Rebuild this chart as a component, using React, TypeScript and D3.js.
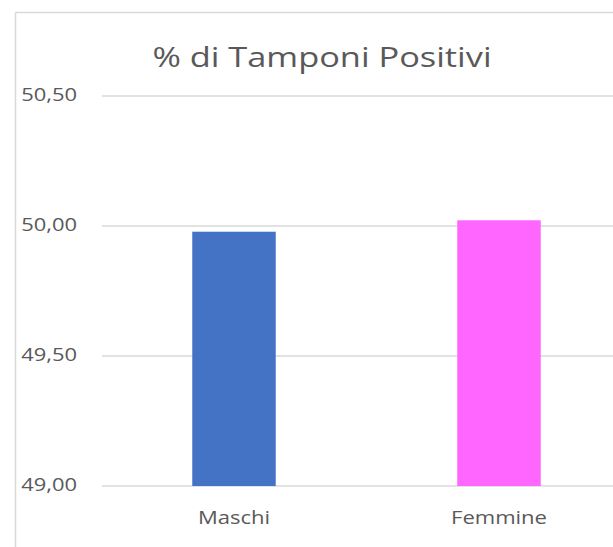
import React from "react";
import * as d3 from "d3";

const categories = ["Maschi", "Femmine"];
const values = [49.978, 50.022];
const barColors = ["#4472C4", "#FF66FF"];
const yTicks = [49.0, 49.5, 50.0, 50.5];
const yTickLabels = ["49,00", "49,50", "50,00", "50,50"];
const title = "% di Tamponi Positivi";

const W = 613;
const H = 547;
const FONT = "'Open Sans', 'Noto Sans', sans-serif";
const TEXT = "#595959";
const GRID = "#d9d9d9";
const SX = 1.22;

function SText({ x, y, size, anchor, children, sx = SX }: any) {
  return (
    <text
      transform={`translate(${x},${y}) scale(${sx},1)`}
      fontSize={size}
      fontFamily={FONT}
      fill={TEXT}
      textAnchor={anchor}
    >
      {children}
    </text>
  );
}

export default function App() {
  const x = d3
    .scaleBand<string>()
    .domain(categories)
    .range([101.5, 631.5])
    .paddingInner(0.685)
    .paddingOuter(0.3425);
  const y = d3.scaleLinear().domain([49, 50.5]).range([486, 96]);

  return (
    <svg
      width={W}
      height={H}
      style={{ position: "absolute", left: 0, top: 0, background: "#fff" }}
    >
      <rect x={0} y={0} width={W} height={H} fill="#fff" />
      <line x1={15.5} y1={12.5} x2={W} y2={12.5} stroke={GRID} strokeWidth={1.5} />
      <line x1={15.5} y1={12.5} x2={15.5} y2={H} stroke={GRID} strokeWidth={1.5} />
      <SText x={322} y={67} size={27.5} anchor="middle" sx={1.25}>
        {title}
      </SText>
      {yTicks.map((t, i) => (
        <g key={t}>
          <line x1={102} x2={W} y1={y(t)} y2={y(t)} stroke={GRID} strokeWidth={1.5} />
          <SText x={77} y={y(t) + 5} size={18} anchor="end">
            {yTickLabels[i]}
          </SText>
        </g>
      ))}
      {categories.map((c, i) => (
        <g key={c}>
          <rect
            x={x(c)}
            y={y(values[i])}
            width={x.bandwidth()}
            height={y(49) - y(values[i])}
            fill={barColors[i]}
          />
          <SText
            x={(x(c) as number) + x.bandwidth() / 2}
            y={524}
            size={19}
            anchor="middle"
            sx={1.16}
          >
            {c}
          </SText>
        </g>
      ))}
    </svg>
  );
}
